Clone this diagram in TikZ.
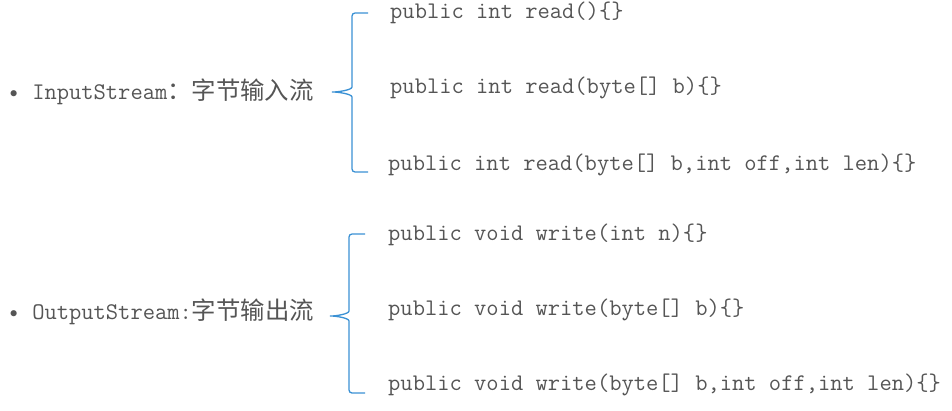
\documentclass[tikz,border=0pt]{standalone}
\usepackage{fontspec}
\setmonofont{Latin Modern Mono}
\newfontfamily\cjk{Noto Sans CJK SC}
\newcommand\zh[1]{{\cjk\fontsize{24.4}{24}\selectfont #1}}
\definecolor{txtgray}{RGB}{85,85,85}
\definecolor{braceblue}{RGB}{58,145,212}
\tikzset{
	code/.style={anchor=west,inner sep=0pt,text=txtgray,font=\ttfamily\fontsize{23.85}{26}\selectfont},
	brace/.style={draw=braceblue,line width=1.3pt,rounded corners=3pt}
}
\begin{document}
\begin{tikzpicture}[x=1pt,y=-1pt]
			\useasboundingbox (0,0) rectangle (952,410);
			% InputStream
			\node[code] (in) at (7.5,92) {• InputStream\zh{：字节输入流}};
			\draw[brace] (368,13) -- (352,13) -- (352,84) .. controls (352,90) and (338,92) .. (330,92) .. controls (338,92) and (352,94) .. (352,100) -- (352,172) -- (368,172);
			\node[code] (r1) at (390,13) {public int read()\{\}};
			\node[code] (r2) at (390,88) {public int read(byte[] b)\{\}};
			\node[code] (r3) at (388,165) {public int read(byte[] b,int off,int len)\{\}};
			% OutputStream
			\node[code] (out) at (7.5,312) {• OutputStream:\zh{字节输出流}};
			\draw[brace] (365,234) -- (349,234) -- (349,308) .. controls (349,314) and (336,316) .. (328,316) .. controls (336,316) and (349,318) .. (349,324) -- (349,393) -- (365,393);
			\node[code] (w1) at (388,235) {public void write(int n)\{\}};
			\node[code] (w2) at (388,310) {public void write(byte[] b)\{\}};
			\node[code] (w3) at (388,385) {public void write(byte[] b,int off,int len)\{\}};
		\end{tikzpicture}
\end{document}
